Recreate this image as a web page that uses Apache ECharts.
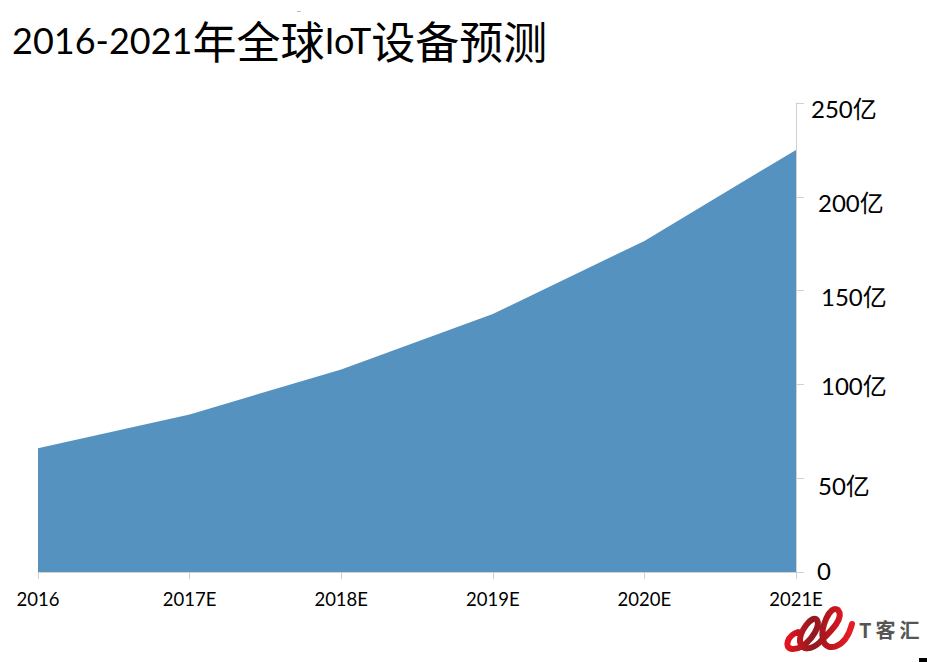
<!DOCTYPE html>
<html>
<head>
<meta charset="utf-8">
<style>
  html, body { margin: 0; padding: 0; background: #fff; }
  #chart { width: 927px; height: 662px; }
</style>
<script src="https://cdn.jsdelivr.net/npm/echarts@6/dist/echarts.min.js"></script>
</head>
<body>
<div id="chart"></div>
<script>
var years = ['2016', '2017E', '2018E', '2019E', '2020E', '2021E'];
var devices = [66, 84, 108, 137.5, 176.5, 225];
var yTicks = ['0', '50亿', '100亿', '150亿', '200亿', '250亿'];

var latin = 'Lato, sans-serif';
var cjk = '"Noto Sans CJK SC", sans-serif';

// the y labels in the source were placed by hand, so each one gets its own nudge
var labelNudge = {
  0: { left: 21, top: 0, bottom: 4 },
  1: { left: 22, top: 14, bottom: 0 },
  2: { left: 25, top: 2, bottom: 0 },
  3: { left: 25, top: 12, bottom: 0 },
  4: { left: 22, top: 12, bottom: 0 },
  5: { left: 15, top: 10, bottom: 0 }
};
var tickRich = {};
Object.keys(labelNudge).forEach(function(k) {
  var n = labelNudge[k];
  tickRich['t' + k] = {
    fontFamily: latin + ',' + cjk,
    fontSize: 24,
    color: '#000',
    padding: [n.top, 0, n.bottom, n.left]
  };
});

// watermark ribbon
echarts.graphic.registerShape('ribbon', echarts.graphic.extendPath(
  'M798 632C788 635 783 648 792 649C805 650 822 628 817 620C812 614 799 632 800 642C801 651 812 650 820 642C830 632 845 618 838 610C830 604 820 628 823 640C826 652 845 650 852 624',
  {}
));

var chart = echarts.init(document.getElementById('chart'), null, { renderer: 'svg' });
chart.setOption({
  animation: false,
  backgroundColor: '#fff',
  title: {
    left: 7,
    top: 13,
    text: '{a|2016-2021}{b|年全球}{a|IoT}{b|设备预测}',
    textStyle: {
      rich: {
        a: { fontFamily: latin, fontWeight: 'normal', fontSize: 36, color: '#000' },
        b: { fontFamily: cjk, fontWeight: 'normal', fontSize: 44, color: '#000' }
      }
    }
  },
  grid: { left: 38, right: 131, top: 103, bottom: 90 },
  xAxis: {
    type: 'category',
    data: years,
    boundaryGap: false,
    axisLine: { lineStyle: { color: '#d0d0d0', width: 1 } },
    axisTick: { show: true, length: 7, lineStyle: { color: '#d0d0d0' } },
    axisLabel: {
      color: '#000',
      fontFamily: latin,
      fontSize: 18.5,
      margin: 17,
      showMinLabel: true,
      showMaxLabel: true
    },
    splitLine: { show: false }
  },
  yAxis: {
    type: 'value',
    position: 'right',
    min: 0,
    max: 250,
    interval: 50,
    axisLine: { show: true, lineStyle: { color: '#d0d0d0', width: 1 } },
    axisTick: { show: true, length: 8, lineStyle: { color: '#d0d0d0' } },
    splitLine: { show: false },
    axisLabel: {
      margin: 0,
      align: 'left',
      rich: tickRich,
      formatter: function(value) {
        var i = value / 50;
        return '{t' + i + '|' + yTicks[i] + '}';
      }
    }
  },
  series: [
    {
      name: 'IoT设备',
      type: 'line',
      data: devices,
      symbol: 'none',
      lineStyle: { width: 0 },
      areaStyle: { color: '#5592bf', opacity: 1 }
    }
  ],
  graphic: [
    {
      type: 'ribbon',
      style: {
        fill: 'none',
        lineWidth: 6,
        lineCap: 'round',
        stroke: {
          type: 'linear', x: 0, y: 0, x2: 1, y2: 0,
          colorStops: [
            { offset: 0, color: '#e3141f' },
            { offset: 0.4, color: '#8f1a20' },
            { offset: 0.7, color: '#c2161e' },
            { offset: 1, color: '#ea1c26' }
          ]
        }
      }
    },
    {
      type: 'text',
      left: 859,
      top: 619,
      style: { text: 'T\u2009客\u2009汇', fontFamily: cjk, fontWeight: 'bold', fontSize: 20, fill: '#555' }
    },
    { type: 'rect', shape: { x: 919, y: 658, width: 8, height: 4 }, style: { fill: '#000' } },
    { type: 'rect', shape: { x: 297, y: 11, width: 4, height: 1 }, style: { fill: '#bbb' } }
  ]
});
window.addEventListener('resize', function() { chart.resize(); });
</script>
</body>
</html>
